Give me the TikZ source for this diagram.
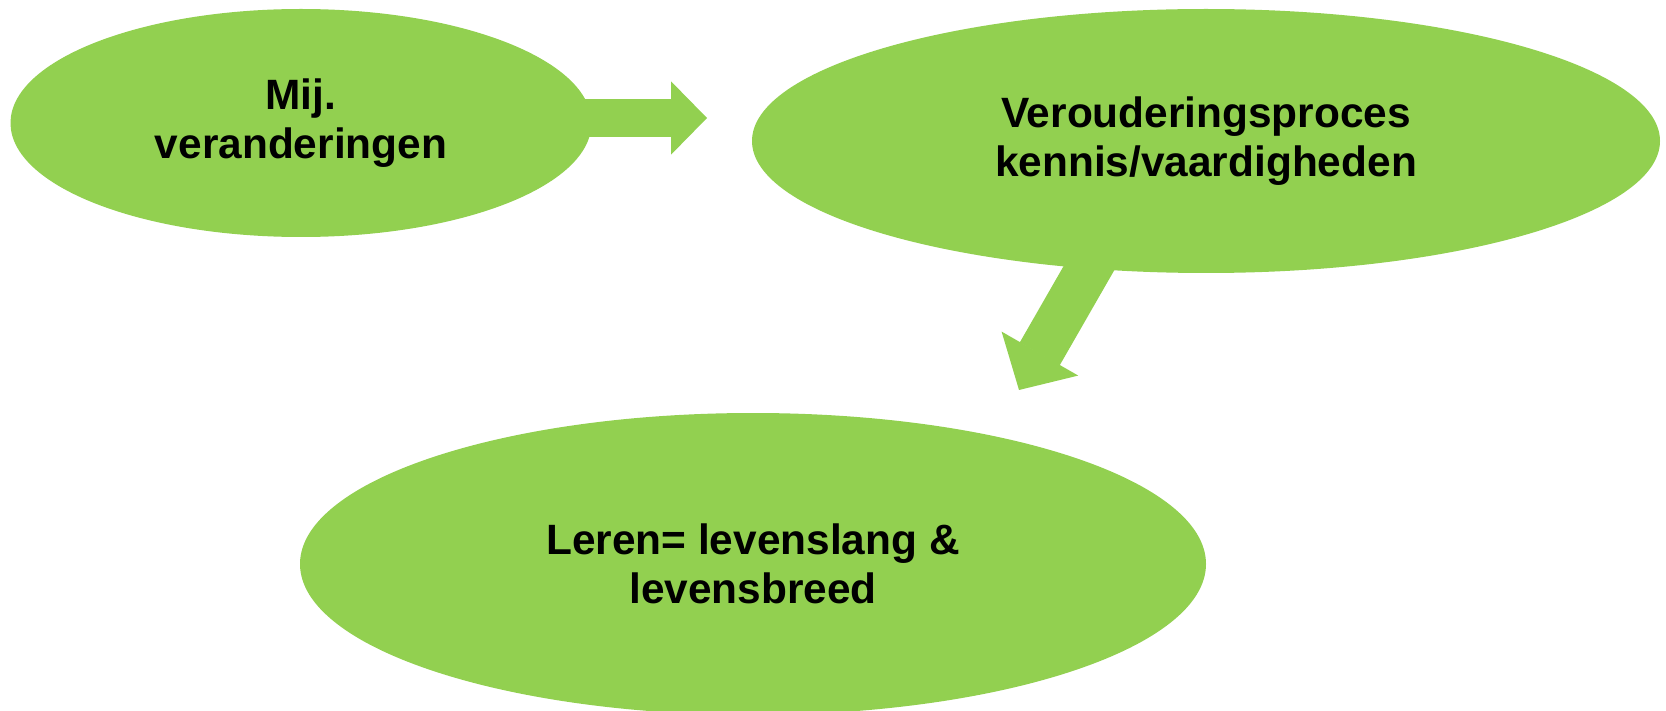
\documentclass[tikz,border=0pt]{standalone}
\usepackage{fontspec}
\setmainfont{Liberation Sans}
\usetikzlibrary{shapes.geometric,arrows.meta}
\definecolor{leafgreen}{HTML}{92D050}
\tikzset{
  bubble/.style={ellipse, fill=leafgreen, inner sep=0pt, align=center,
    font=\fontsize{21.2}{24.5}\selectfont\bfseries},
  blockarrow/.style={draw=leafgreen, fill=leafgreen}
}
\begin{document}
\begin{tikzpicture}[x=0.5pt, y=-0.5pt]
\useasboundingbox (0,0) rectangle (1666,711);
% arrows first, the bubbles go on top
\coordinate (a1s) at (560,118);
\coordinate (a1t) at (707,118);
\coordinate (a2s) at (1112,228);
\coordinate (a2t) at (1019,390);
\draw[blockarrow, line width=19pt, -{Triangle[length=18pt, width=36.5pt, line width=1pt]}] (a1s) -- (a1t);
\draw[blockarrow, line width=23pt, -{Triangle[length=21pt, width=44pt, line width=1pt]}] (a2s) -- (a2t);
\node[bubble, minimum width=290.5pt, minimum height=114pt] (mij) at (301,123) {Mij.\\veranderingen};
\node[bubble, minimum width=454pt, minimum height=132pt] (proces) at (1206,141) {Verouderingsproces\\kennis/vaardigheden};
\node[bubble, minimum width=453pt, minimum height=151pt] (leren) at (753,564) {Leren= levenslang \&\\levensbreed};
\end{tikzpicture}
\end{document}
